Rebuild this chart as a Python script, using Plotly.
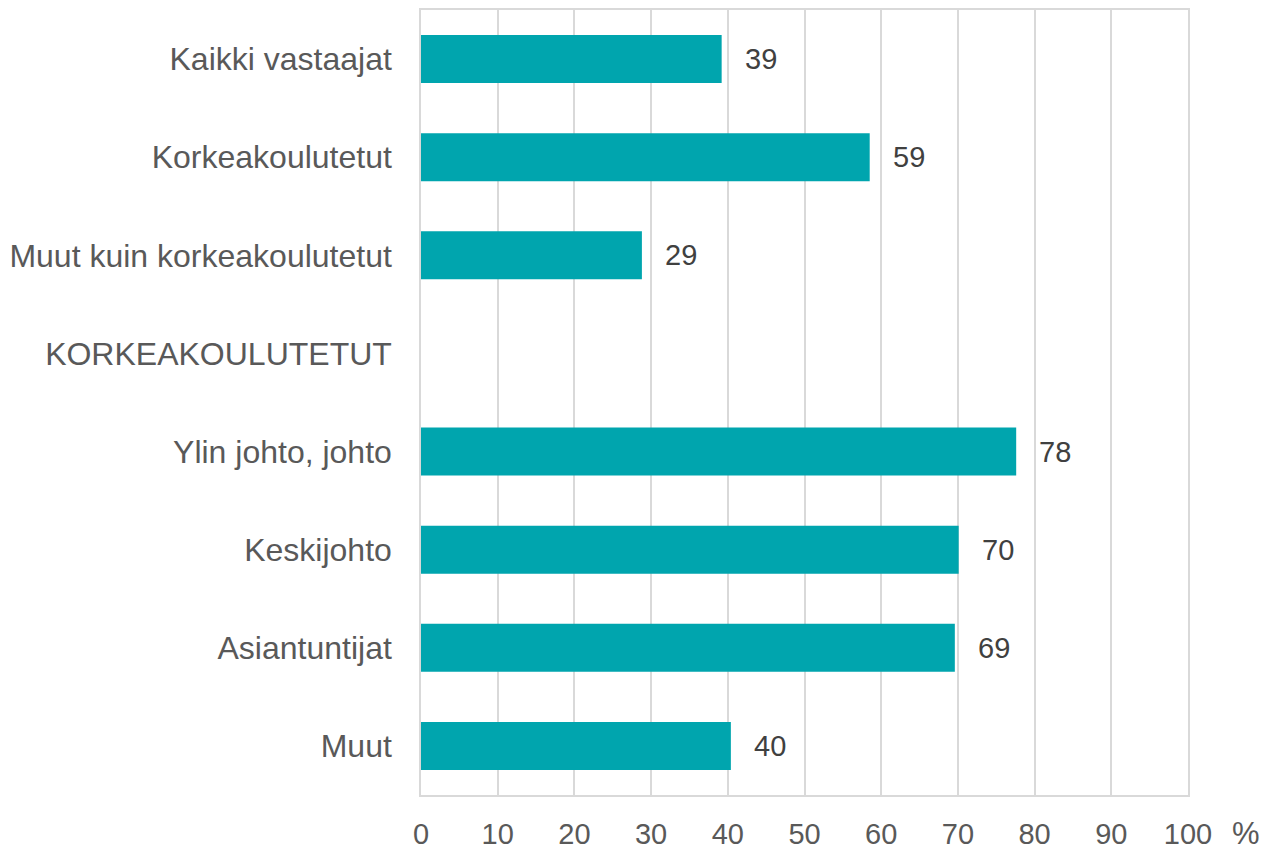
import plotly.graph_objects as go

categories = ["Kaikki vastaajat", "Korkeakoulutetut", "Muut kuin korkeakoulutetut",
              "KORKEAKOULUTETUT", "Ylin johto, johto", "Keskijohto", "Asiantuntijat", "Muut"]
values = [39.2, 58.5, 28.8, None, 77.6, 70.1, 69.6, 40.4]
labels = ["39", "59", "29", "", "78", "70", "69", "40"]
x_ticks = [0, 10, 20, 30, 40, 50, 60, 70, 80, 90, 100]

font = "Liberation Sans, Arial, sans-serif"
grey = "#595959"

fig = go.Figure()
fig.add_trace(go.Bar(
    y=categories, x=[v if v is not None else 0 for v in values], orientation="h",
    marker=dict(color="#00A5AE", line=dict(width=0)),
    hoverinfo="skip",
))

for c, v, t in zip(categories, values, labels):
    if v is None:
        continue
    fig.add_annotation(x=v, y=c, text=t, showarrow=False, xanchor="left",
                       xshift=21, font=dict(family=font, size=29, color="#404040"))

fig.add_annotation(xref="paper", yref="paper", x=1, y=0, text="%", showarrow=False,
                   xanchor="left", yanchor="middle", xshift=42, yshift=-38,
                   font=dict(family=font, size=31, color=grey))

fig.update_layout(
    width=1273, height=852,
    margin=dict(l=413, r=93, t=0, b=65),
    plot_bgcolor="white", paper_bgcolor="white",
    bargap=0.51,
    showlegend=False,
    font=dict(family=font, size=29, color=grey),
)
fig.update_xaxes(range=[0, 100], tickvals=x_ticks, showgrid=True, gridcolor="#D9D9D9",
                 gridwidth=1.5, showline=True, linecolor="#D9D9D9", linewidth=1.5, mirror=True,
                 zeroline=False, ticks="", ticklabelstandoff=12,
                 tickfont=dict(family=font, size=29, color=grey))
fig.update_yaxes(categoryorder="array", categoryarray=categories, autorange="reversed",
                 showgrid=False, showline=True, linecolor="#D9D9D9", linewidth=1.5, mirror=True,
                 ticks="", ticklabelstandoff=21,
                 tickfont=dict(family=font, size=32, color=grey))

fig.write_html("out.html")
